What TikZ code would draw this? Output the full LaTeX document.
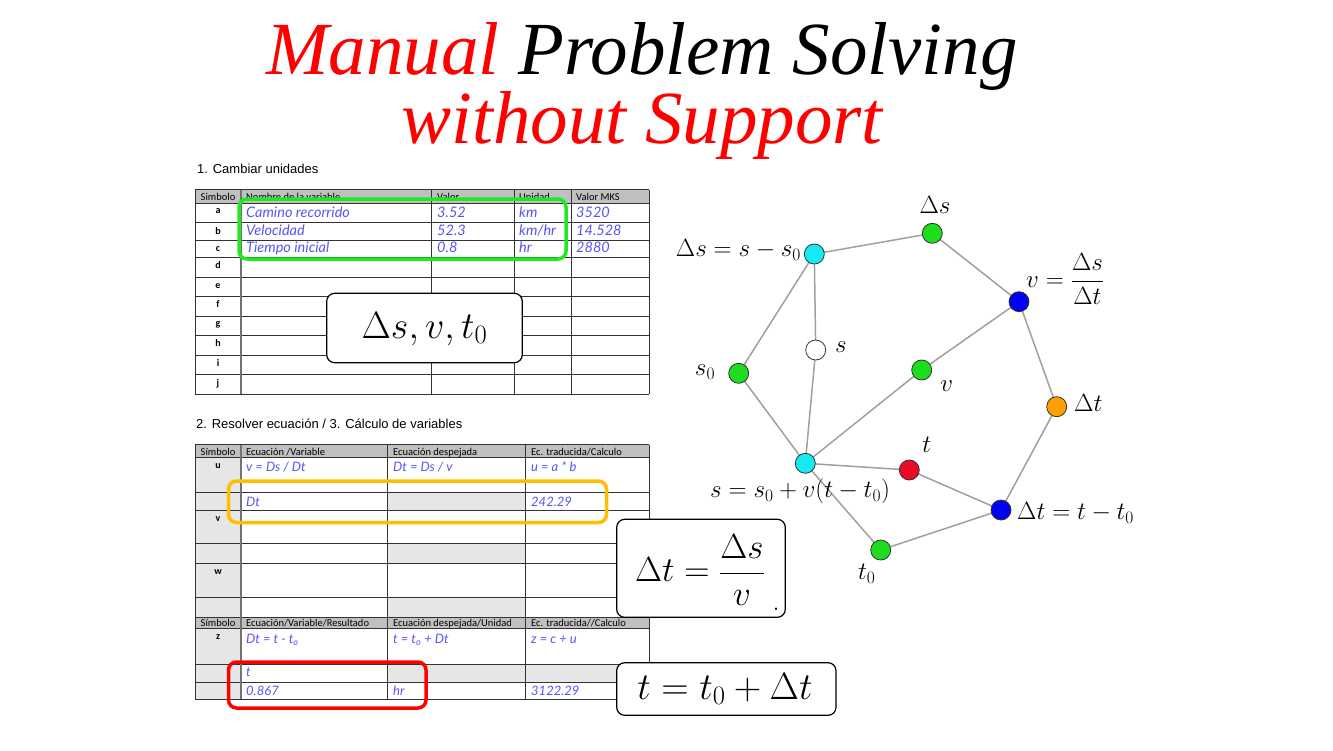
\RequirePackage{fix-cm}
\documentclass[tikz,border=0pt]{standalone}
\usepackage[no-math]{fontspec}
\newfontfamily\titlefont{Liberation Serif}
\newfontfamily\tabfont{Carlito}
\newfontfamily\arialfont{Liberation Sans}
\newfontfamily\hand{Lato}
\definecolor{hdrgray}{RGB}{192,192,192}
\definecolor{cellgray}{RGB}{230,230,230}
\definecolor{handblue}{RGB}{85,85,250}
\definecolor{gline}{RGB}{160,160,160}
\definecolor{ncyan}{RGB}{20,235,240}
\definecolor{ngreen}{RGB}{30,220,30}
\definecolor{nblue}{RGB}{0,0,245}
\definecolor{norange}{RGB}{255,160,0}
\definecolor{nred}{RGB}{235,10,40}
\definecolor{boxgreen}{RGB}{30,235,30}
\definecolor{boxorange}{RGB}{255,190,0}
\definecolor{titlered}{RGB}{255,0,0}
\tikzset{
  grid/.style={draw=black!80, line width=0.8pt},
  sepline/.style={draw=black!55, line width=1.6pt},
  hdr/.style={font=\tabfont\fontsize{10.5}{12}\selectfont, inner sep=0pt, anchor=base west},
  hdrc/.style={font=\tabfont\fontsize{10.5}{12}\selectfont, inner sep=0pt, anchor=base},
  sym/.style={font=\tabfont\bfseries\fontsize{10}{12}\selectfont, inner sep=0pt, anchor=base},
  hw/.style={font=\hand\itshape\fontsize{14.5}{16}\selectfont, text=handblue, inner sep=0pt, anchor=base west},
  hws/.style={font=\hand\itshape\fontsize{13}{14}\selectfont, text=handblue, inner sep=0pt, anchor=base west},
  hilite/.style={line width=3.5pt, rounded corners=8pt},
  mathbox/.style={draw=black, line width=1.2pt, fill=white, rounded corners=8pt},
  vtx/.style={circle, draw=black!80, line width=0.8pt, minimum size=20pt, inner sep=0pt},
  edge/.style={draw=gline, line width=1.5pt},
  lbl/.style={font=\fontsize{25}{28}\selectfont, inner sep=0pt},
  big/.style={font=\fontsize{38}{40}\selectfont, inner sep=0pt},
  sectitle/.style={font=\arialfont\fontsize{13}{15}\selectfont, inner sep=0pt, anchor=west}
}
\begin{document}
\begin{tikzpicture}[x=1pt,y=-1pt]
\useasboundingbox (0,0) rectangle (1333,750);
\fill[white] (0,0) rectangle (1333,750);

% ---------- Title ----------
\node[font=\titlefont\itshape\fontsize{75}{67}\selectfont, align=center, anchor=north, inner sep=0pt] (title) at (642,22)
  {\textcolor{titlered}{Manual} Problem Solving\\\textcolor{titlered}{without Support}};

% ---------- Table 1 ----------
\node[sectitle] (t1title) at (197,169) {1. Cambiar unidades};
\fill[hdrgray] (195,189.5) rectangle (649,203);
\foreach \y in {189.5,203,222.5,240,257,277,296.5,316,335.5,355,374,394}
  \draw[grid] (195,\y) -- (649,\y);
\foreach \x in {195,431,514,571,649}
  \draw[grid] (\x,189.5) -- (\x,394);
\draw[sepline] (241,189.5) -- (241,394);
\node[hdrc] (h1a) at (218,200) {Simbolo};
\node[hdr] (h1b) at (246,200) {Nombre de la variable};
\node[hdr] (h1c) at (437,200) {Valor};
\node[hdr] (h1d) at (519,200) {Unidad};
\node[hdr] (h1e) at (576,200) {Valor MKS};
\foreach \l/\y in {a/213.5,b/234.5,c/251.5,d/268.5,e/288.2,f/307.5,g/326.5,h/346.2,i/366.2,j/386.2}
  \node[sym] (sym\l) at (218,\y) {\l};
\node[hw] (ta1) at (246,217) {Camino recorrido};
\node[hw] (ta2) at (437,217) {3.52};
\node[hw] (ta3) at (519,217) {km};
\node[hw] (ta4) at (576,217) {3520};
\node[hw] (tb1) at (246,235.5) {Velocidad};
\node[hw] (tb2) at (437,235.5) {52.3};
\node[hw] (tb3) at (519,235.5) {km/hr};
\node[hw] (tb4) at (576,235.5) {14.528};
\node[hw] (tc1) at (246,252.5) {Tiempo inicial};
\node[hw] (tc2) at (437,252.5) {0.8};
\node[hw] (tc3) at (519,252.5) {hr};
\node[hw] (tc4) at (576,252.5) {2880};

% ---------- Table 2 ----------
\node[sectitle] (t2title) at (196,424) {2. Resolver ecuación / 3. Cálculo de variables};
\fill[hdrgray] (195,444.7) rectangle (649,457.7);
\fill[hdrgray] (195,617.5) rectangle (649,628.5);
\fill[cellgray] (195,457.7) rectangle (241,617.5);
\fill[cellgray] (195,628.5) rectangle (241,699.3);
\fill[cellgray] (387,492.7) rectangle (525,510.7);
\fill[cellgray] (387,543.3) rectangle (525,563.3);
\fill[cellgray] (387,597.3) rectangle (525,617.5);
\fill[cellgray] (387,664.3) rectangle (649,682.3);
\foreach \y in {444.7,457.7,492.7,510.7,543.3,563.3,597.3,617.5,628.5,664.3,682.3,699.3}
  \draw[grid] (195,\y) -- (649,\y);
\foreach \x in {195,387,525,649}
  \draw[grid] (\x,444.7) -- (\x,699.3);
\draw[sepline] (241,444.7) -- (241,699.3);
\node[hdrc] (h2a) at (218,455) {Símbolo};
\node[hdr] (h2b) at (246,455) {Ecuación /Variable};
\node[hdr] (h2c) at (393,455) {Ecuación despejada};
\node[hdr] (h2d) at (531,455) {Ec. traducida/Calculo};
\node[hdrc] (h3a) at (218,626.5) {Símbolo};
\node[hdr] (h3b) at (246,626.5) {Ecuación/Variable/Resultado};
\node[hdr] (h3c) at (393,626.5) {Ecuación despejada/Unidad};
\node[hdr] (h3d) at (531,626.5) {Ec. traducida//Calculo};
\node[sym] (symu) at (218,468.5) {u};
\node[sym] (symv) at (218,521.5) {v};
\node[sym] (symw) at (218,574.5) {w};
\node[sym] (symz) at (218,639.5) {z};
\node[hws] (u1) at (246,471) {v = Ds / Dt};
\node[hws] (u2) at (393,471) {Dt = Ds / v};
\node[hws] (u3) at (531,471) {u = a * b};
\node[hws] (u4) at (246,506) {Dt};
\node[hws] (u5) at (531,506) {242.29};
\node[hws] (z1) at (246,643.5) {Dt = t - t\textsubscript{o}};
\node[hws] (z2) at (393,643.5) {t = t\textsubscript{o} + Dt};
\node[hws] (z3) at (531,643.5) {z = c + u};
\node[hws] (z4) at (246,676.5) {t};
\node[hws] (z5) at (246,695) {0.867};
\node[hws] (z6) at (393,695) {hr};
\node[hws] (z7) at (531,695) {3122.29};

% ---------- Highlight boxes ----------
\draw[hilite, draw=boxgreen] (239,199) rectangle (566,259);
\draw[hilite, draw=boxorange] (228.5,481) rectangle (606.5,522.5);
\draw[hilite, draw=red] (228.5,662) rectangle (426,708);

% ---------- Math boxes ----------
\draw[mathbox] (326.7,293.3) rectangle (522.3,362.7);
\node[big] (m1) at (424.5,329) {$\Delta s, v, t_0$};
\draw[mathbox] (616.7,519.3) rectangle (785.3,617.3);
\node[font=\fontsize{35}{38}\selectfont, inner sep=0pt] (m2) at (700,570) {$\displaystyle \Delta t = \frac{\Delta s}{v}$};
\node[font=\fontsize{30}{32}\selectfont, inner sep=0pt, anchor=base] (m2dot) at (776,610) {.};
\draw[mathbox] (616.7,662.7) rectangle (836,715.3);
\node[big] (m3) at (725,689) {$t = t_0 + \Delta t$};

% ---------- Graph ----------
\coordinate (A) at (814.3,254);
\coordinate (B) at (932.3,233.3);
\coordinate (C) at (1019,301.7);
\coordinate (D) at (815.7,350);
\coordinate (E) at (738.7,373.3);
\coordinate (F) at (921.7,370);
\coordinate (G) at (1056.7,406.7);
\coordinate (H) at (805.3,463.3);
\coordinate (I) at (909.3,470);
\coordinate (J) at (1001,510);
\coordinate (K) at (880.7,550);
\foreach \a/\b in {A/B,B/C,A/E,A/D,D/H,E/H,H/F,F/C,C/G,G/J,H/I,I/J,H/K,K/J}
  \draw[edge] (\a) -- (\b);
\node[vtx, fill=ncyan]   (nA) at (A) {};
\node[vtx, fill=ngreen]  (nB) at (B) {};
\node[vtx, fill=nblue]   (nC) at (C) {};
\node[vtx, fill=white]   (nD) at (D) {};
\node[vtx, fill=ngreen]  (nE) at (E) {};
\node[vtx, fill=ngreen]  (nF) at (F) {};
\node[vtx, fill=norange] (nG) at (G) {};
\node[vtx, fill=ncyan]   (nH) at (H) {};
\node[vtx, fill=nred]    (nI) at (I) {};
\node[vtx, fill=nblue]   (nJ) at (J) {};
\node[vtx, fill=ngreen]  (nK) at (K) {};

\node[lbl, anchor=east] (lA) at (801,250) {$\Delta s = s - s_0$};
\node[lbl] (lB) at (935,205) {$\Delta s$};
\node[lbl, anchor=west] (lC) at (1026,279) {$\displaystyle v = \frac{\Delta s}{\Delta t}$};
\node[lbl] (lD) at (841,347) {$s$};
\node[lbl] (lE) at (705,372) {$s_0$};
\node[lbl] (lF) at (946.7,386) {$v$};
\node[lbl, anchor=west] (lG) at (1074,403) {$\Delta t$};
\node[lbl] (lI) at (926.7,445) {$t$};
\node[lbl] (lH) at (800,491) {$s = s_0 + v(t - t_0)$};
\node[lbl, anchor=west] (lJ) at (1017,513) {$\Delta t = t - t_0$};
\node[lbl] (lK) at (866.7,574) {$t_0$};
\end{tikzpicture}
\end{document}
